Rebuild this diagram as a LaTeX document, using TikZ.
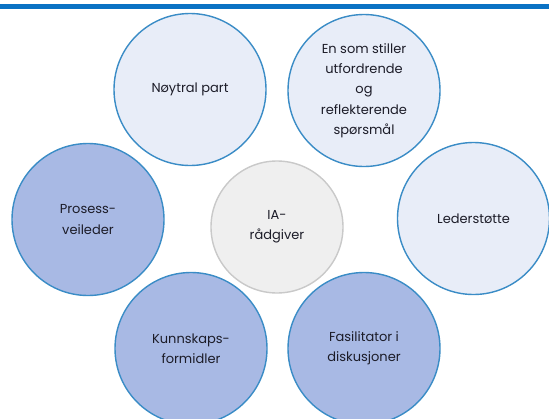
\documentclass[tikz,border=0pt]{standalone}
\usepackage{fontspec}
\newfontfamily\gothic{Poppins}
\definecolor{ringline}{HTML}{3A8CC6}
\definecolor{paleblue}{HTML}{E8EDF8}
\definecolor{periwinkle}{HTML}{A8B9E4}
\definecolor{coregrey}{HTML}{EFEFEF}
\definecolor{coreline}{HTML}{C9C9C9}
\definecolor{topbar}{HTML}{0A72C4}
\definecolor{labeltext}{HTML}{1C1C28}
\tikzset{
  role/.style={circle, draw=ringline, line width=1.4pt, minimum size=152pt,
    inner sep=0pt, align=center, text=labeltext,
    font=\gothic\fontsize{13}{20.3}\selectfont},
  lightrole/.style={role, fill=paleblue},
  darkrole/.style={role, fill=periwinkle},
  corerole/.style={role, fill=coregrey, draw=coreline, minimum size=132pt}
}
\begin{document}
\begin{tikzpicture}[x=1pt, y=-1pt]
  \useasboundingbox (0,0) rectangle (549,418);
  \fill[white] (0,0) rectangle (549,418);
  \begin{scope}
    \clip (0,0) rectangle (549,418);
    % header rule
    \fill[topbar] (0,4) rectangle (549,8.5);
    % central role
    \node[corerole] (ia) at (277,227) {IA-\\rådgiver};
    % surrounding roles
    \node[lightrole] (np) at (190,89.5) {Nøytral part};
    \node[lightrole] (es) at (364,90.5) {En som stiller\\utfordrende\\og\\reflekterende\\spørsmål};
    \node[darkrole]  (pv) at (88,219.5) {Prosess-\\veileder};
    \node[lightrole] (ls) at (473.5,218.5) {Lederstøtte};
    \node[darkrole]  (kf) at (191,348.5) {Kunnskaps-\\formidler};
    \node[darkrole]  (fd) at (364,348.5) {Fasilitator i\\diskusjoner};
  \end{scope}
\end{tikzpicture}
\end{document}
